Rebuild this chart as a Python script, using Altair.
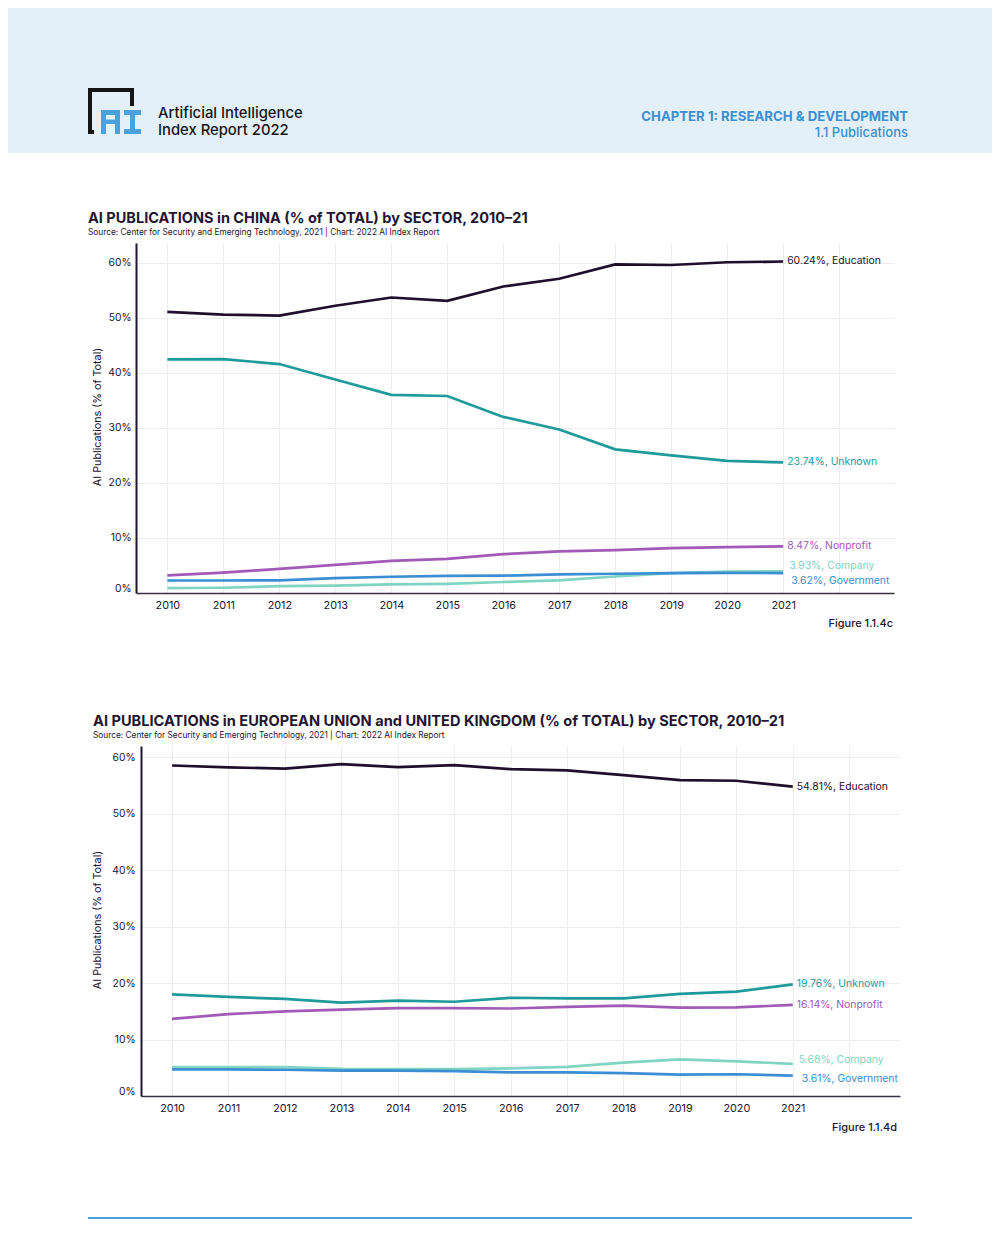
import altair as alt
import pandas as pd

# ---------------- data ----------------
years = list(range(2010, 2022))
series = ["Education", "Unknown", "Nonprofit", "Company", "Government"]
colors = ["#1f0f2c", "#1f9a9b", "#a15ab6", "#7fd5c2", "#3b8ed3"]

china_education = [51.1, 50.6, 50.4, 52.2, 53.7, 53.1, 55.7, 57.1, 59.7, 59.6, 60.1, 60.24]
china_unknown = [42.45, 42.5, 41.6, 38.8, 36.0, 35.8, 32.0, 29.7, 26.1, 25.0, 24.0, 23.74]
china_nonprofit = [3.2, 3.7, 4.4, 5.1, 5.85, 6.2, 7.05, 7.55, 7.8, 8.15, 8.33, 8.47]
china_company = [0.87, 0.95, 1.25, 1.35, 1.55, 1.67, 2.0, 2.3, 3.0, 3.6, 3.9, 3.93]
china_government = [2.27, 2.27, 2.3, 2.7, 2.95, 3.1, 3.15, 3.4, 3.5, 3.6, 3.65, 3.62]

eu_education = [58.55, 58.2, 58.0, 58.8, 58.26, 58.6, 57.9, 57.67, 56.85, 55.96, 55.84, 54.81]
eu_unknown = [18.0, 17.55, 17.2, 16.55, 16.9, 16.7, 17.4, 17.3, 17.3, 18.1, 18.5, 19.76]
eu_nonprofit = [13.65, 14.5, 15.0, 15.3, 15.55, 15.55, 15.5, 15.8, 16.0, 15.65, 15.7, 16.14]
eu_company = [5.1, 5.1, 5.1, 4.8, 4.75, 4.75, 4.9, 5.15, 5.9, 6.5, 6.15, 5.68]
eu_government = [4.7, 4.7, 4.65, 4.5, 4.5, 4.4, 4.2, 4.2, 4.05, 3.8, 3.85, 3.61]

y_ticks = [0, 10, 20, 30, 40, 50, 60]
grid_years = list(range(2010, 2023))

FONT = "Inter"
DARK = "#231530"
HEADER_BG = "#e3f0fa"
BLUE = "#3b8fd0"
ORIGIN_X = 136  # page x of every panel's origin


def one(text=""):
    return pd.DataFrame({"t": [text]})


def deco_text(text, x, y, size, weight="normal", color=DARK, align="left", angle=None, baseline="alphabetic"):
    kw = dict(align=align, baseline=baseline, font=FONT, fontSize=size, fontWeight=weight, color=color)
    if angle is not None:
        kw["angle"] = angle
    return alt.Chart(one(text)).mark_text(**kw).encode(
        x=alt.value(x), y=alt.value(y), text="t:N"
    )


def deco_rect(x, x2, y, y2, color, opacity=1.0):
    return alt.Chart(one()).mark_rect(color=color, opacity=opacity).encode(
        x=alt.value(x), x2=alt.value(x2), y=alt.value(y), y2=alt.value(y2)
    )


def line_panel(vals, axis_x, py0, right_x, h, xdom, ydom, slot_top, slot_bottom,
               title, tx, ty, tsize, sy, fig, fx, fy, ytitle_y, lab_pad, offsets):
    L = lambda X: X - ORIGIN_X
    T = lambda Y: Y - py0
    w = right_x - ORIGIN_X
    shift = axis_x - ORIGIN_X
    rows = []
    for s, v in zip(series, vals):
        for yr, val in zip(years, v):
            rows.append({"year": yr, "value": val, "series": s,
                         "label": f"{v[-1]:.2f}%, {s}"})
    df = pd.DataFrame(rows)

    x = alt.X("year:Q", scale=alt.Scale(domain=xdom, nice=False, zero=False, range=[shift, w]),
              axis=alt.Axis(values=grid_years,
                            labelExpr="datum.value <= 2021 ? '' + datum.value : ''",
                            grid=True, gridColor="#ededed", gridWidth=1,
                            ticks=False, tickSize=0, labelPadding=6,
                            domainColor="#3a3044", domainWidth=1.4,
                            labelFont=FONT, labelFontSize=10.8, labelColor=DARK,
                            title=None))
    y = alt.Y("value:Q", scale=alt.Scale(domain=ydom, nice=False, zero=False),
              axis=alt.Axis(values=y_ticks, labelExpr="datum.value + '%'",
                            labelFlush=True, grid=True, gridColor="#ededed", gridWidth=1,
                            ticks=False, tickSize=0, labelPadding=lab_pad, offset=-shift,
                            domainColor=DARK, domainWidth=2,
                            labelFont=FONT, labelFontSize=10.3, labelColor=DARK,
                            title=None))
    color = alt.Color("series:N", scale=alt.Scale(domain=series, range=colors), legend=None)

    slot = deco_rect(L(8), L(992), T(slot_top), T(slot_bottom), "white", opacity=0)
    lines = alt.Chart(df).mark_line(strokeWidth=2.7).encode(x=x, y=y, color=color, order="year:Q")
    end = df[df["year"] == 2021]
    labels = []
    for s in series:
        dx, dy = offsets[s]
        labels.append(
            alt.Chart(end[end["series"] == s]).mark_text(
                align="left", baseline="middle", dx=dx, dy=dy, font=FONT, fontSize=10.4
            ).encode(x=x, y=y, text="label:N", color=color)
        )
    layers = [slot, lines] + labels + [
        deco_text(title, L(tx), T(ty), tsize, weight="bold"),
        deco_text("Source: Center for Security and Emerging Technology, 2021 | Chart: 2022 AI Index Report",
                  L(tx), T(sy), 8.3),
        deco_text(fig, L(fx), T(fy), 11, weight=500, align="right"),
        deco_text("AI Publications (% of Total)", L(98), T(ytitle_y), 10.8, angle=270,
                  align="center", baseline="middle"),
    ]
    return alt.layer(*layers).properties(width=w, height=h)


# ---------------- header ----------------
HX = lambda X: X - ORIGIN_X
HY = lambda Y: Y - 8
LOGO_BLACK = "#151515"
LOGO_BLUE = "#4aa1dc"
header_layers = [
    deco_rect(HX(8), HX(992), HY(8), HY(153), HEADER_BG),
    # logo bracket
    deco_rect(HX(88), HX(134), HY(88), HY(92), LOGO_BLACK),
    deco_rect(HX(88), HX(92), HY(88), HY(134), LOGO_BLACK),
    deco_rect(HX(130), HX(134), HY(88), HY(106), LOGO_BLACK),
    deco_rect(HX(88), HX(94), HY(130), HY(134), LOGO_BLACK),
    # "A"
    deco_rect(HX(101), HX(106), HY(110), HY(134), LOGO_BLUE),
    deco_rect(HX(115), HX(120), HY(110), HY(134), LOGO_BLUE),
    deco_rect(HX(101), HX(120), HY(110), HY(115), LOGO_BLUE),
    deco_rect(HX(101), HX(120), HY(119.5), HY(124), LOGO_BLUE),
    # "I"
    deco_rect(HX(124), HX(141), HY(110), HY(115), LOGO_BLUE),
    deco_rect(HX(124), HX(141), HY(129), HY(134), LOGO_BLUE),
    deco_rect(HX(130), HX(135), HY(110), HY(134), LOGO_BLUE),
    deco_text("Artificial Intelligence", HX(158), HY(117.5), 14.8, weight=500, color=LOGO_BLACK),
    deco_text("Index Report 2022", HX(158), HY(134.5), 14.8, weight=500, color=LOGO_BLACK),
    deco_text("CHAPTER 1: RESEARCH & DEVELOPMENT", HX(908), HY(120.5), 13.2, weight="bold", color=BLUE, align="right"),
    deco_text("1.1 Publications", HX(908), HY(137), 13, weight=500, color=BLUE, align="right"),
]
header = alt.layer(*header_layers).properties(width=856, height=145)

china_offsets = {"Education": (4, 0), "Unknown": (4, 0), "Nonprofit": (4, 0),
                 "Company": (6, -5), "Government": (8, 8)}
eu_offsets = {"Education": (4, 0), "Unknown": (4, 0), "Nonprofit": (4, 0),
              "Company": (6, -4), "Government": (9, 3)}

china = line_panel(
    [china_education, china_unknown, china_nonprofit, china_company, china_government],
    136, 243, 894, 350, [2009.44, 2022.98], [0, 63.6], 153, 660,
    "AI PUBLICATIONS in CHINA (% of TOTAL) by SECTOR, 2010–21", 88, 222.5, 14.5, 234.5,
    "Figure 1.1.4c", 893, 626.5, 417, 5, china_offsets)

eu = line_panel(
    [eu_education, eu_unknown, eu_nonprofit, eu_company, eu_government],
    141, 746, 900, 350, [2009.45, 2022.9], [0, 62.0], 660, 1170,
    "AI PUBLICATIONS in EUROPEAN UNION and UNITED KINGDOM (% of TOTAL) by SECTOR, 2010–21",
    93, 725.5, 14.6, 738, "Figure 1.1.4d", 897, 1130.5, 920, 6, eu_offsets)

FY = lambda Y: Y - 1170
footer = alt.layer(
    deco_rect(HX(8), HX(992), FY(1170), FY(1222), "white", opacity=0),
    alt.Chart(one()).mark_rule(color="#4a9fd8", strokeWidth=2).encode(
        x=alt.value(HX(88)), x2=alt.value(HX(912)), y=alt.value(FY(1218))),
).properties(width=856, height=52)

chart = alt.vconcat(header, china, eu, footer, spacing=0).properties(
    padding=0, background="white"
).configure_view(stroke=None)

chart.save("out.html", embed_options={"renderer": "svg", "actions": False})
